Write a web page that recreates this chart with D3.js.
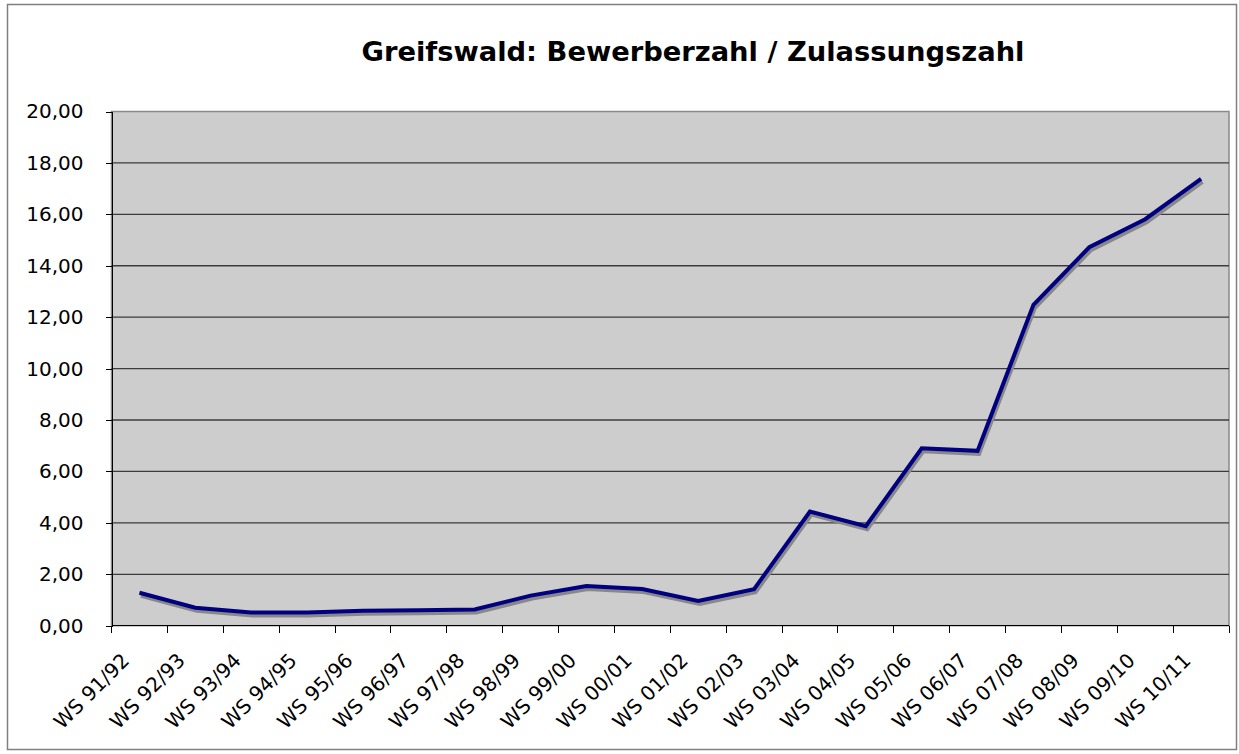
<!DOCTYPE html>
<meta charset="utf-8">
<style>
body { margin: 0; background: #fff; }
svg text { font-family: "DejaVu Sans", Verdana, sans-serif; fill: #000; }
.axis path, .axis line { stroke: #000; shape-rendering: crispEdges; }
</style>
<body>
<svg></svg>
<script src="https://d3js.org/d3.v7.min.js"></script>
<script>

var categories = ["WS 91/92", "WS 92/93", "WS 93/94", "WS 94/95", "WS 95/96", "WS 96/97", "WS 97/98",
  "WS 98/99", "WS 99/00", "WS 00/01", "WS 01/02", "WS 02/03", "WS 03/04", "WS 04/05",
  "WS 05/06", "WS 06/07", "WS 07/08", "WS 08/09", "WS 09/10", "WS 10/11"];
var ratio = [1.28, 0.70, 0.51, 0.51, 0.58, 0.60, 0.63, 1.17, 1.54, 1.43, 0.96, 1.42,
  4.44, 3.87, 6.90, 6.80, 12.48, 14.72, 15.81, 17.38];
var yTicks = [0, 2, 4, 6, 8, 10, 12, 14, 16, 18, 20];
var title = "Greifswald: Bewerberzahl / Zulassungszahl";

var W = 1239, H = 754;
var margin = {top: 111.5, right: 10, bottom: 128, left: 111.5},
    width = 1229 - margin.left,
    height = 625.7 - margin.top;

var svg = d3.select("svg")
    .attr("width", W)
    .attr("height", H);

// outer frame
svg.append("rect")
    .attr("x", 7.5).attr("y", 4.5)
    .attr("width", 1229).attr("height", 745)
    .attr("fill", "#fff")
    .attr("stroke", "#808080")
    .attr("stroke-width", 1.5);

svg.append("text")
    .attr("x", 693)
    .attr("y", 61)
    .attr("text-anchor", "middle")
    .style("font-size", "27px")
    .style("font-weight", "bold")
    .attr("textLength", 663)
    .attr("lengthAdjust", "spacingAndGlyphs")
    .text(title);

var g = svg.append("g")
    .attr("transform", "translate(" + margin.left + "," + margin.top + ")");

var x = d3.scaleBand().domain(categories).range([0, width]);
var y = d3.scaleLinear().domain([0, 20]).range([height, 0]);

g.append("rect")
    .attr("width", width)
    .attr("height", height)
    .attr("fill", "#cdcdcd")
    .attr("stroke", "#8a8a8a")
    .attr("stroke-width", 1.5);

g.selectAll(".grid")
    .data(yTicks.slice(1, -1))
  .enter().append("line")
    .attr("class", "grid")
    .attr("x1", 0).attr("x2", width)
    .attr("y1", function(d) { return y(d); })
    .attr("y2", function(d) { return y(d); })
    .attr("stroke", "#3c3c3c")
    .attr("stroke-width", 1.3);

var fmt = function(d) { return d3.format(".2f")(d).replace(".", ","); };

var yAxis = g.append("g")
    .attr("class", "y axis")
    .call(d3.axisLeft(y).tickValues(yTicks).tickFormat(fmt).tickSize(6).tickPadding(22));
yAxis.selectAll("text").style("font-size", "20px");

// ticks at category boundaries
var bounds = d3.range(categories.length + 1).map(function(i) { return i * x.bandwidth(); });
var xAxis = g.append("g")
    .attr("class", "x axis")
    .attr("transform", "translate(0," + height + ")");
xAxis.append("line")
    .attr("x1", 0).attr("x2", width)
    .attr("stroke", "#000").attr("stroke-width", 1.5);
xAxis.selectAll(".tick")
    .data(bounds)
  .enter().append("line")
    .attr("x1", function(d) { return d; })
    .attr("x2", function(d) { return d; })
    .attr("y1", 0).attr("y2", 7)
    .attr("stroke", "#000");

xAxis.selectAll(".lbl")
    .data(categories)
  .enter().append("text")
    .attr("class", "lbl")
    .attr("text-anchor", "end")
    .attr("transform", function(d) {
      return "translate(" + (x(d) + x.bandwidth() / 2 - 19) + ",26) rotate(-45)";
    })
    .attr("dy", "0.71em")
    .style("font-size", "20px")
    .text(function(d) { return d; });

var line = d3.line()
    .x(function(d, i) { return x(categories[i]) + x.bandwidth() / 2; })
    .y(function(d) { return y(d); });

g.append("path")
    .datum(ratio)
    .attr("transform", "translate(1.5,3)")
    .attr("fill", "none")
    .attr("stroke", "#888")
    .attr("stroke-width", 4)
    .attr("d", line);

g.append("path")
    .datum(ratio)
    .attr("fill", "none")
    .attr("stroke", "#000080")
    .attr("stroke-width", 4)
    .attr("d", line);

</script>
